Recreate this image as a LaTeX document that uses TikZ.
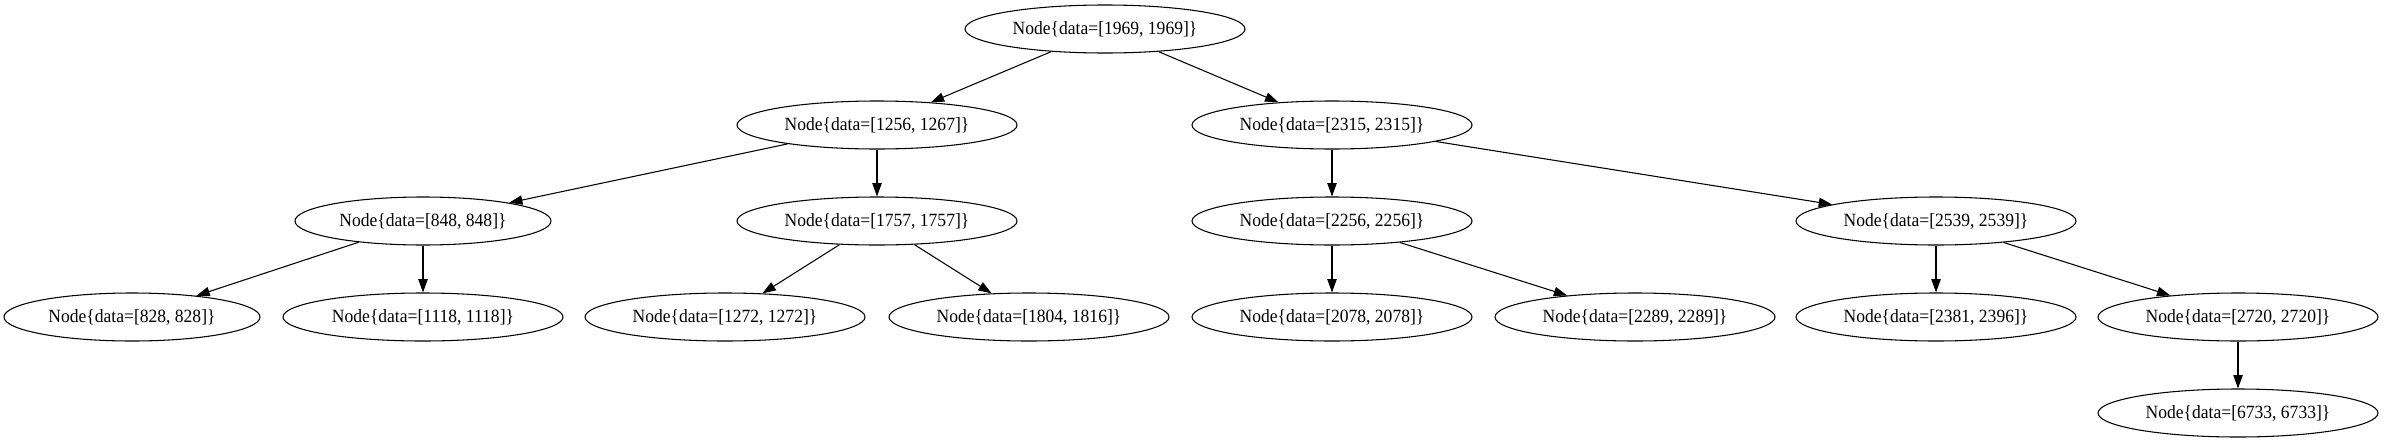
\documentclass[tikz,border=0pt]{standalone}
\usepackage{fontspec}
\setmainfont[FakeStretch=0.94]{Liberation Serif}
\usetikzlibrary{shapes.geometric,arrows.meta}
\begin{document}
\begin{tikzpicture}[x=0.75pt,y=0.75pt,
  tnode/.style={draw=black,ellipse,line width=0.8pt,inner sep=0pt,minimum width=210pt,minimum height=36pt,font=\fontsize{14pt}{16pt}\selectfont},
  snode/.style={tnode,minimum width=192pt},
  edge/.style={draw=black,line width=0.8pt,-{Triangle[length=10pt,width=7pt]}}]
\useasboundingbox (0,0) rectangle (2384,-443);
\node[tnode] (n1969) at (1105,-29) {Node\{data=[1969, 1969]\}};
\node[tnode] (n1256) at (877,-125) {Node\{data=[1256, 1267]\}};
\node[tnode] (n2315) at (1332,-125) {Node\{data=[2315, 2315]\}};
\node[snode] (n848) at (423,-221) {Node\{data=[848, 848]\}};
\node[tnode] (n1757) at (877,-221) {Node\{data=[1757, 1757]\}};
\node[tnode] (n2256) at (1332,-221) {Node\{data=[2256, 2256]\}};
\node[tnode] (n2539) at (1936,-221) {Node\{data=[2539, 2539]\}};
\node[snode] (n828) at (132,-317) {Node\{data=[828, 828]\}};
\node[tnode] (n1118) at (423,-317) {Node\{data=[1118, 1118]\}};
\node[tnode] (n1272) at (725,-317) {Node\{data=[1272, 1272]\}};
\node[tnode] (n1804) at (1029,-317) {Node\{data=[1804, 1816]\}};
\node[tnode] (n2078) at (1332,-317) {Node\{data=[2078, 2078]\}};
\node[tnode] (n2289) at (1635,-317) {Node\{data=[2289, 2289]\}};
\node[tnode] (n2381) at (1936,-317) {Node\{data=[2381, 2396]\}};
\node[tnode] (n2720) at (2238,-317) {Node\{data=[2720, 2720]\}};
\node[tnode] (n6733) at (2238,-413) {Node\{data=[6733, 6733]\}};
\draw[edge] (n1969) -- (n1256);
\draw[edge] (n1969) -- (n2315);
\draw[edge] (n1256) -- (n848);
\draw[edge] (n1256) -- (n1757);
\draw[edge] (n848) -- (n828);
\draw[edge] (n848) -- (n1118);
\draw[edge] (n1757) -- (n1272);
\draw[edge] (n1757) -- (n1804);
\draw[edge] (n2315) -- (n2256);
\draw[edge] (n2315) -- (n2539);
\draw[edge] (n2256) -- (n2078);
\draw[edge] (n2256) -- (n2289);
\draw[edge] (n2539) -- (n2381);
\draw[edge] (n2539) -- (n2720);
\draw[edge] (n2720) -- (n6733);
\end{tikzpicture}
\end{document}
